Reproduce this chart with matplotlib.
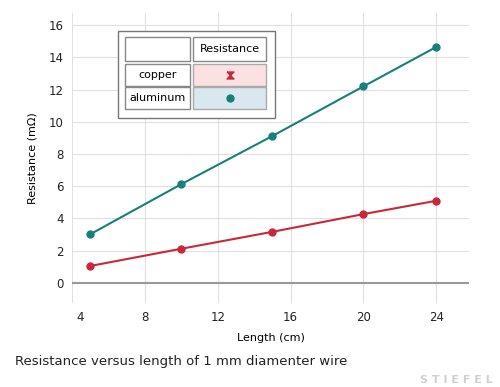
import matplotlib
matplotlib.use("Agg")
import matplotlib.pyplot as plt
import matplotlib.transforms as mtransforms
from matplotlib.patches import Rectangle

# data
length_cm = [5, 10, 15, 20, 24]
copper = [1.05, 2.12, 3.17, 4.27, 5.1]
aluminum = [3.02, 6.13, 9.12, 12.2, 14.65]
x_ticks = [4, 8, 12, 16, 20, 24]
y_ticks = [0, 2, 4, 6, 8, 10, 12, 14, 16]

TEAL = "#17807a"
RED = "#c8283a"

fig = plt.figure(figsize=(5.0, 3.87), dpi=100)
ax = fig.add_axes([0.144, 0.217, 0.794, 0.749])

ax.plot(length_cm, aluminum, color=TEAL, lw=1.5, marker="o", ms=5, zorder=3)
ax.plot(length_cm, copper, color=RED, lw=1.5, marker="o", ms=5, zorder=3)

ax.set_xlim(4, 25.8)
ax.set_ylim(-1.25, 16.75)
ax.set_xticks(x_ticks)
ax.set_yticks(y_ticks)
ax.grid(color="#e0e0e0", lw=0.8)
ax.axhline(0, color="#999999", lw=1.5, zorder=2)
for s in ax.spines.values():
    s.set_visible(False)
ax.tick_params(length=0, labelsize=8.5, colors="#222222", pad=6)
ax.set_xlabel("Length (cm)", fontsize=8, labelpad=6)
ax.set_ylabel("Resistance (m\u03a9)", fontsize=8, labelpad=8)

# first x label sits a bit right of its tick in the reference
first = ax.get_xticklabels()[0]
first.set_transform(first.get_transform() +
                    mtransforms.ScaledTranslation(8 / 100, 0, fig.dpi_scale_trans))

# legend drawn as a small table (figure pixel coords, y from top)
W, H = 500, 387


def box(x0, y0, x1, y1, fc="white", ec="#888888", lw=1.0):
    fig.patches.append(Rectangle((x0 / W, 1 - y1 / H), (x1 - x0) / W, (y1 - y0) / H,
                                 transform=fig.transFigure, fc=fc, ec=ec, lw=lw, zorder=5))


box(118, 31, 275, 118, ec="#777777", lw=1.0)
box(125, 37, 190, 61)
box(193, 37, 266, 61)
box(125, 64, 190, 86)
box(193, 64, 266, 86, fc="#fbe1e1", ec="#aaaaaa")
box(125, 87, 190, 109)
box(193, 87, 266, 109, fc="#d8e8ee", ec="#aaaaaa")

fig.text(229.5 / W, 1 - 49 / H, "Resistance", fontsize=8, ha="center", va="center", zorder=6)
fig.text(157.5 / W, 1 - 75 / H, "copper", fontsize=8, ha="center", va="center", zorder=6)
fig.text(157.5 / W, 1 - 98 / H, "aluminum", fontsize=8, ha="center", va="center", zorder=6)
hourglass = [(-1, 1), (1, 1), (-1, -1), (1, -1), (-1, 1)]
fig.lines.append(plt.Line2D([229.5 / W], [1 - 75 / H], transform=fig.transFigure,
                            marker=hourglass, ms=5, color=RED, lw=0, zorder=6))
fig.lines.append(plt.Line2D([229.5 / W], [1 - 98 / H], transform=fig.transFigure,
                            marker="o", ms=5, color=TEAL, lw=0, zorder=6))

fig.text(15 / W, 1 - 362 / H, "Resistance versus length of 1 mm diamenter wire",
         fontsize=9.5, ha="left", va="center", color="#222222")
fig.text(493 / W, 1 - 380 / H, "S T I E F E L", fontsize=8, fontweight="bold",
         ha="right", va="center", color="#d0d0d0")

fig.savefig("out.png", dpi=100)
